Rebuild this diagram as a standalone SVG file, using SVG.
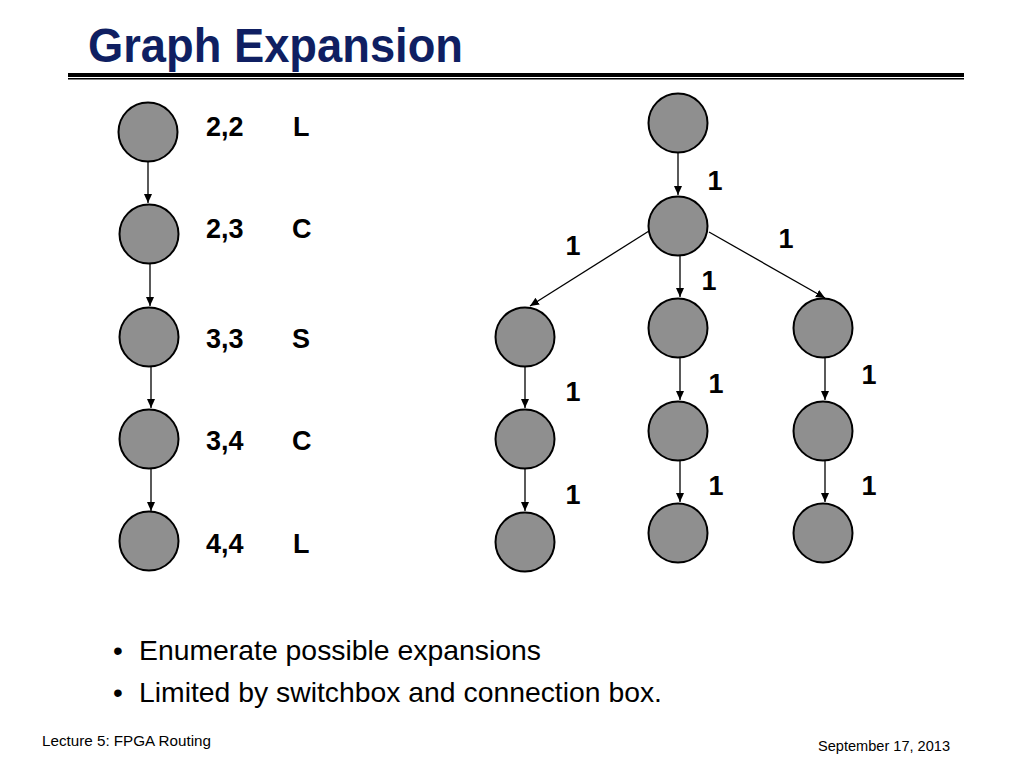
<svg xmlns="http://www.w3.org/2000/svg" width="1024" height="768" viewBox="0 0 1024 768">
<defs>
<marker id="ah" markerWidth="10" markerHeight="10" refX="9" refY="5" orient="auto" markerUnits="userSpaceOnUse">
<path d="M0,1 L9,5 L0,9 Z" fill="#000"/>
</marker>
<style>
.n{fill:#8f8f8f;stroke:#000;stroke-width:2}
.e{stroke:#000;stroke-width:1.3;fill:none;marker-end:url(#ah)}
.lbl{font-family:"Liberation Sans",Arial,sans-serif;font-weight:bold;font-size:27px;fill:#000}
.w{font-family:"Liberation Sans",Arial,sans-serif;font-weight:bold;font-size:27px;fill:#000;text-anchor:middle}
.b{font-family:"Liberation Sans",Arial,sans-serif;font-size:28px;fill:#000}
.f{font-family:"Liberation Sans",Arial,sans-serif;font-size:14px;fill:#000}
</style>
</defs>
<rect width="1024" height="768" fill="#fff"/>
<text x="88" y="62" font-family="'Liberation Sans',Arial,sans-serif" font-weight="bold" font-size="48" fill="#0f1f62" textLength="375" lengthAdjust="spacingAndGlyphs">Graph Expansion</text>
<rect x="68" y="73" width="896" height="4" fill="#000"/>
<rect x="68" y="78" width="896" height="1.5" fill="#000"/>

<g id="connectors">
<line class="e" x1="148" y1="162" x2="148" y2="203"/>
<line class="e" x1="150" y1="264" x2="150" y2="306"/>
<line class="e" x1="151" y1="367" x2="151" y2="408"/>
<line class="e" x1="151" y1="469" x2="151" y2="511"/>
<line class="e" x1="678" y1="153" x2="678" y2="195"/>
<line class="e" x1="649" y1="231" x2="530" y2="306"/>
<line class="e" x1="680" y1="256" x2="680" y2="297"/>
<line class="e" x1="709" y1="232" x2="825" y2="298"/>
<line class="e" x1="525" y1="367" x2="525" y2="408"/>
<line class="e" x1="525" y1="469" x2="525" y2="511"/>
<line class="e" x1="680" y1="358" x2="680" y2="400"/>
<line class="e" x1="680" y1="461" x2="680" y2="502"/>
<line class="e" x1="825" y1="358" x2="825" y2="400"/>
<line class="e" x1="825" y1="461" x2="825" y2="502"/>
</g>

<g id="left-chain">
<g id="n22"><circle class="n" cx="148" cy="132" r="29.5"/><text class="lbl" x="206" y="136">2,2</text><text class="lbl" x="293" y="136">L</text></g>
<g id="n23"><circle class="n" cx="149" cy="234" r="29.5"/><text class="lbl" x="206" y="238">2,3</text><text class="lbl" x="292" y="238">C</text></g>
<g id="n33"><circle class="n" cx="149" cy="337" r="29.5"/><text class="lbl" x="206" y="348">3,3</text><text class="lbl" x="292" y="348">S</text></g>
<g id="n34"><circle class="n" cx="149" cy="439" r="29.5"/><text class="lbl" x="206" y="450">3,4</text><text class="lbl" x="292" y="450">C</text></g>
<g id="n44"><circle class="n" cx="149" cy="541" r="29.5"/><text class="lbl" x="206" y="553">4,4</text><text class="lbl" x="293" y="553">L</text></g>
</g>

<g id="tree">
<g id="t0"><circle class="n" cx="678" cy="123" r="29.5"/></g>
<g id="t1"><circle class="n" cx="678" cy="226" r="29.5"/></g>
<g id="tL1"><circle class="n" cx="525" cy="337" r="29.5"/></g>
<g id="tL2"><circle class="n" cx="525" cy="439" r="29.5"/></g>
<g id="tL3"><circle class="n" cx="525" cy="542" r="29.5"/></g>
<g id="tM1"><circle class="n" cx="678" cy="328" r="29.5"/></g>
<g id="tM2"><circle class="n" cx="678" cy="431" r="29.5"/></g>
<g id="tM3"><circle class="n" cx="678" cy="533" r="29.5"/></g>
<g id="tR1"><circle class="n" cx="823" cy="328" r="29.5"/></g>
<g id="tR2"><circle class="n" cx="823" cy="431" r="29.5"/></g>
<g id="tR3"><circle class="n" cx="823" cy="533" r="29.5"/></g>
</g>

<g id="weights">
<text class="w" x="715" y="190">1</text>
<text class="w" x="573" y="255">1</text>
<text class="w" x="786" y="248">1</text>
<text class="w" x="709" y="290">1</text>
<text class="w" x="573" y="401">1</text>
<text class="w" x="716" y="393">1</text>
<text class="w" x="869" y="384">1</text>
<text class="w" x="573" y="504">1</text>
<text class="w" x="716" y="495">1</text>
<text class="w" x="869" y="495">1</text>
</g>

<g id="bullets">
<text class="b" x="113" y="660">•</text>
<text class="b" x="139" y="660" textLength="402" lengthAdjust="spacingAndGlyphs">Enumerate possible expansions</text>
<text class="b" x="113" y="702">•</text>
<text class="b" x="139" y="702" textLength="523" lengthAdjust="spacingAndGlyphs">Limited by switchbox and connection box.</text>
</g>

<text class="f" x="42" y="746" textLength="169" lengthAdjust="spacingAndGlyphs">Lecture 5: FPGA Routing</text>
<text class="f" x="818" y="751" textLength="132" lengthAdjust="spacingAndGlyphs">September 17, 2013</text>
</svg>
